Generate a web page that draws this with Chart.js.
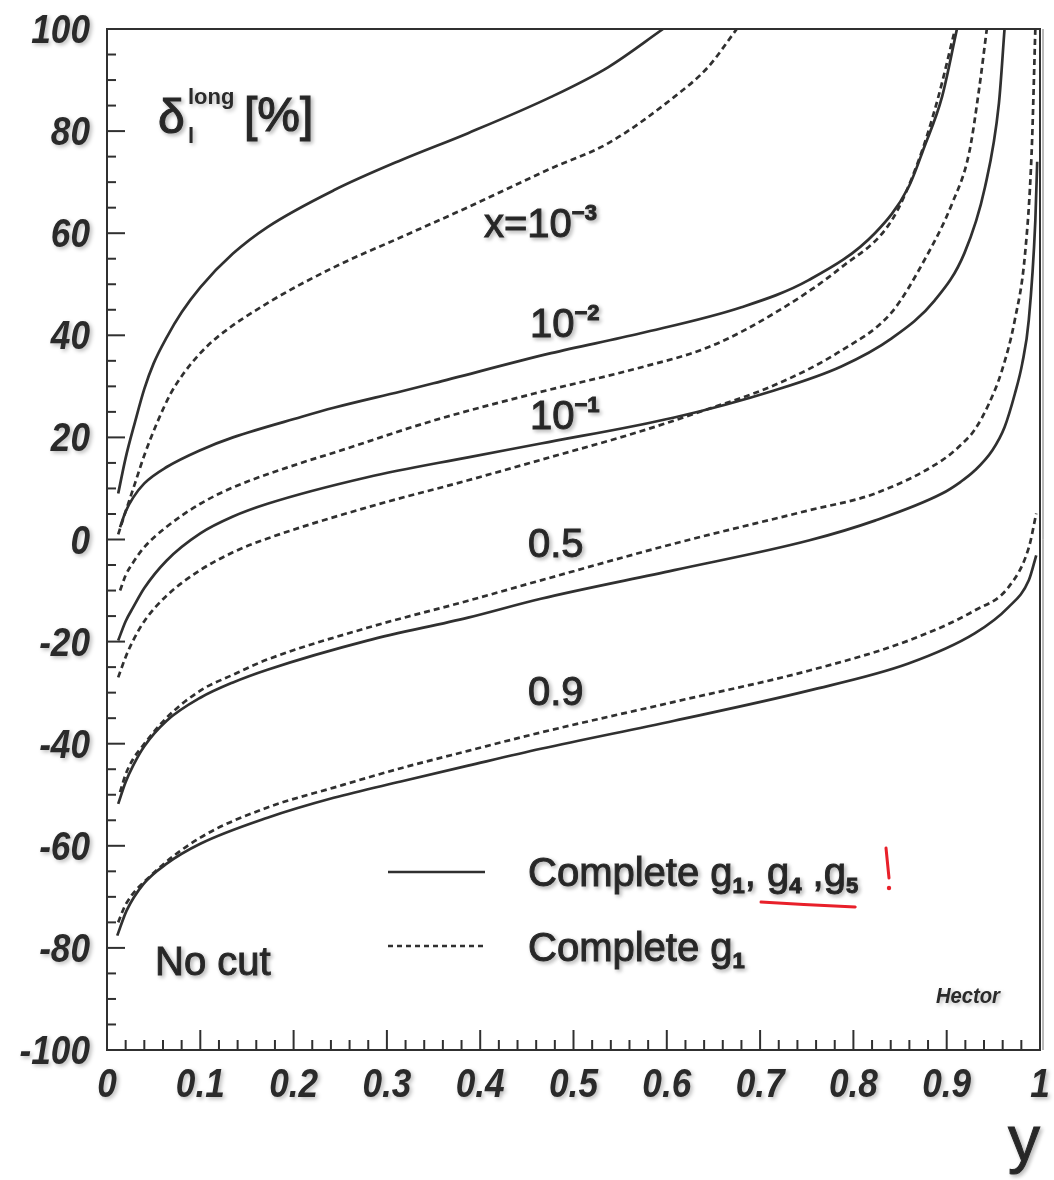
<!DOCTYPE html>
<html>
<head>
<meta charset="utf-8">
<script src="https://cdn.jsdelivr.net/npm/chart.js@4.4.1/dist/chart.umd.min.js"></script>
<style>
  html, body { margin: 0; padding: 0; background: #ffffff; }
  #wrap { width: 1054px; height: 1180px; }
</style>
</head>
<body>
<div id="wrap"><canvas id="c" width="1054" height="1180"></canvas></div>
<script>
// ---------- data ----------
// x axis variable "y", vertical axis delta_l^long [%]
const yS_1e3 = [0.012, 0.02, 0.03, 0.04, 0.05, 0.064, 0.08, 0.1, 0.135, 0.172, 0.243, 0.315, 0.387, 0.476, 0.537, 0.596];
const dS_1e3 = [9, 16, 23, 29.5, 34.5, 39.6, 44.5, 49.4, 56, 61.2, 68.4, 74.3, 79.6, 86.7, 92.5, 100];

const yD_1e3 = [0.012, 0.02, 0.03, 0.04, 0.054, 0.068, 0.082, 0.1, 0.118, 0.172, 0.243, 0.315, 0.387, 0.476, 0.537, 0.608, 0.644, 0.675];
const dD_1e3 = [1, 5.5, 11, 16.5, 23, 28.5, 32.5, 36.5, 39.6, 46.3, 53.3, 59.2, 65.1, 72.7, 77.6, 86.7, 92.5, 100];

const yS_1e2 = [0.014, 0.02, 0.028, 0.04, 0.064, 0.1, 0.135, 0.208, 0.243, 0.315, 0.35, 0.476, 0.572, 0.68, 0.752, 0.823, 0.859, 0.876, 0.895, 0.911];
const dS_1e2 = [2.4, 5.5, 8.2, 11, 14.2, 17.5, 20, 24, 25.8, 29, 30.6, 36.5, 40.4, 45.5, 50.8, 60, 69, 76.9, 86.7, 100];

const yD_1e2 = [0.014, 0.02, 0.028, 0.04, 0.064, 0.1, 0.135, 0.208, 0.243, 0.35, 0.458, 0.572, 0.645, 0.715, 0.787, 0.841, 0.87, 0.89, 0.909];
const dD_1e2 = [-10, -7, -4.5, -1.5, 2.5, 7, 10.2, 15, 17, 23.3, 28.6, 33.7, 37.7, 44.3, 53.3, 62.5, 74.3, 86, 100];

const yS_1e1 = [0.012, 0.02, 0.028, 0.04, 0.064, 0.1, 0.135, 0.172, 0.279, 0.387, 0.465, 0.608, 0.715, 0.787, 0.841, 0.887, 0.919, 0.941, 0.956, 0.962];
const dS_1e1 = [-19.8, -16, -13.3, -9.5, -4.1, 1.2, 4.5, 7, 12.2, 16.1, 18.8, 23.9, 29.2, 33.9, 39.4, 46.8, 56.1, 69, 85.5, 100];

const yD_1e1 = [0.012, 0.02, 0.028, 0.04, 0.064, 0.1, 0.135, 0.172, 0.279, 0.387, 0.465, 0.572, 0.645, 0.715, 0.787, 0.841, 0.876, 0.906, 0.924, 0.935, 0.943];
const dD_1e1 = [-27, -23, -19.8, -16, -11, -6, -2.5, 0.2, 6.3, 11.6, 15.6, 21.2, 25.6, 30.2, 37, 44.5, 54.7, 65.9, 75.7, 88.6, 100];

const yS_05 = [0.012, 0.02, 0.028, 0.04, 0.064, 0.1, 0.135, 0.172, 0.279, 0.387, 0.465, 0.608, 0.752, 0.823, 0.895, 0.915, 0.93, 0.949, 0.962, 0.973, 0.981, 0.988, 0.995, 0.997];
const dS_05 = [-51.8, -47.5, -44.3, -40.5, -35.5, -31, -28, -25.5, -19.8, -15.3, -11.6, -6, -0.2, 3.7, 9, 11.3, 13.5, 17.5, 22, 28.5, 34.5, 43, 62.5, 74];

const yD_05 = [0.014, 0.02, 0.028, 0.035, 0.064, 0.1, 0.135, 0.172, 0.279, 0.387, 0.465, 0.608, 0.752, 0.823, 0.895, 0.915, 0.93, 0.945, 0.959, 0.973, 0.984, 0.991, 0.995];
const dD_05 = [-49.5, -46, -43, -41.2, -34.9, -29.6, -26.5, -23.5, -17.3, -12, -8, -0.8, 5.7, 9, 15.5, 18.5, 21.5, 26.5, 33, 43, 56, 75.7, 100];

const yS_09 = [0.011, 0.021, 0.039, 0.064, 0.1, 0.172, 0.243, 0.315, 0.387, 0.465, 0.608, 0.752, 0.859, 0.93, 0.966, 0.988, 0.996];
const dS_09 = [-77.6, -72.7, -67.5, -63.5, -59.6, -54.5, -50.6, -47.4, -44.3, -41, -35.5, -29.6, -24.3, -18.4, -13.3, -8, -3.1];

const yD_09 = [0.012, 0.02, 0.046, 0.1, 0.172, 0.243, 0.315, 0.387, 0.465, 0.608, 0.752, 0.859, 0.93, 0.966, 0.988, 0.996];
const dD_09 = [-75, -71.5, -66, -58.4, -52.5, -48.6, -44.8, -41.4, -37.8, -31.8, -25.7, -19.8, -13.9, -9.4, -1.6, 5.1];

// ticks
const yTickValues = [100, 80, 60, 40, 20, 0, -20, -40, -60, -80, -100];
const yTickLabels = ['100', '80', '60', '40', '20', '0', '-20', '-40', '-60', '-80', '-100'];
const xTickValues = [0, 0.1, 0.2, 0.3, 0.4, 0.5, 0.6, 0.7, 0.8, 0.9, 1];
const xTickLabels = ['0', '0.1', '0.2', '0.3', '0.4', '0.5', '0.6', '0.7', '0.8', '0.9', '1'];

// ---------- chart ----------
const INK = '#303030';
function pts(xs, vs) { return xs.map((x, i) => ({ x: x, y: vs[i] })); }
function solid(label, xs, vs) {
  return { label, data: pts(xs, vs), borderColor: INK, borderWidth: 2.7, pointRadius: 0,
           cubicInterpolationMode: 'monotone', fill: false };
}
function dashed(label, xs, vs) {
  return { label, data: pts(xs, vs), borderColor: INK, borderWidth: 2.7, pointRadius: 0,
           borderDash: [6, 4], cubicInterpolationMode: 'monotone', fill: false };
}

function txt(ctx, s, x, y, font, align, sx, thick) {
  ctx.save();
  ctx.font = font;
  ctx.translate(x, y);
  ctx.scale(sx || 1, 1);
  ctx.textAlign = align || 'left';
  ctx.textBaseline = 'alphabetic';
  ctx.fillText(s, 0, 0);
  if (thick) { ctx.lineWidth = thick; ctx.strokeStyle = ctx.fillStyle; ctx.strokeText(s, 0, 0); }
  ctx.restore();
}
// rich text: parts = [{t, f, dy}], returns start x of each part and the end x
function rich(ctx, parts, x, y, thick) {
  const xs = [];
  let cx = x;
  ctx.save();
  if (thick) { ctx.lineWidth = thick; ctx.strokeStyle = ctx.fillStyle; }
  for (const p of parts) {
    ctx.font = p.f;
    ctx.textAlign = 'left';
    xs.push(cx);
    ctx.fillText(p.t, cx, y + (p.dy || 0));
    if (thick) ctx.strokeText(p.t, cx, y + (p.dy || 0));
    cx += ctx.measureText(p.t).width;
  }
  ctx.restore();
  xs.push(cx);
  return xs;
}

const decor = {
  id: 'decor',
  afterDraw(chart) {
    const { ctx, chartArea: ca, scales } = chart;
    const X = scales.x, Y = scales.y;
    ctx.save();
    // frame
    ctx.strokeStyle = INK;
    ctx.lineWidth = 2;
    ctx.setLineDash([]);
    ctx.strokeRect(ca.left, ca.top, ca.right - ca.left, ca.bottom - ca.top);
    ctx.lineWidth = 1;
    ctx.strokeStyle = '#777';
    ctx.beginPath(); ctx.moveTo(ca.right + 3, ca.top); ctx.lineTo(ca.right + 3, ca.bottom); ctx.stroke();

    // y ticks (inward)
    ctx.strokeStyle = INK;
    ctx.lineWidth = 2;
    for (let v = -100; v <= 100; v += 5) {
      const py = Y.getPixelForValue(v);
      const len = (v % 20 === 0) ? 18 : 9;
      ctx.beginPath(); ctx.moveTo(ca.left, py); ctx.lineTo(ca.left + len, py); ctx.stroke();
    }
    // x ticks (inward)
    for (let i = 0; i <= 50; i++) {
      const px = X.getPixelForValue(i / 50);
      const len = (i % 5 === 0) ? 20 : 10;
      ctx.beginPath(); ctx.moveTo(px, ca.bottom); ctx.lineTo(px, ca.bottom - len); ctx.stroke();
    }

    // text style with soft scan-like shadow
    ctx.fillStyle = '#2a2a2a';
    ctx.shadowColor = 'rgba(0,0,0,0.28)';
    ctx.shadowBlur = 4;
    ctx.shadowOffsetX = 2;
    ctx.shadowOffsetY = 2;

    const tickFont = 'italic bold 40px "Liberation Sans", Arial, sans-serif';
    yTickValues.forEach((v, i) => {
      txt(ctx, yTickLabels[i], 90, Y.getPixelForValue(v) + 14, tickFont, 'right', 0.88);
    });
    xTickValues.forEach((v, i) => {
      txt(ctx, xTickLabels[i], X.getPixelForValue(v), 1097, tickFont, 'center', 0.88);
    });

    // axis title "y"
    txt(ctx, 'y', 1040, 1161, '64px "Liberation Sans", Arial, sans-serif', 'right', 1, 1);

    // vertical axis title  delta_l^long [%]
    const tf = '48px "Liberation Sans", Arial, sans-serif';
    rich(ctx, [{ t: '\u03B4', f: tf }], 158, 133, 1.2);
    rich(ctx, [{ t: 'l', f: 'bold 22px "Liberation Sans", Arial, sans-serif' }], 188, 143);
    rich(ctx, [{ t: 'long', f: 'bold 22px "Liberation Sans", Arial, sans-serif' }], 188, 104);
    rich(ctx, [{ t: '[%]', f: tf }], 244, 131, 1.2);

    // curve labels
    const lf = '40px "Liberation Sans", Arial, sans-serif';
    const sf = 'bold 22px "Liberation Sans", Arial, sans-serif';
    rich(ctx, [{ t: 'x=10', f: lf }, { t: '\u22123', f: sf, dy: -17 }], 484, 237, 1);
    rich(ctx, [{ t: '10', f: lf }, { t: '\u22122', f: sf, dy: -17 }], 530, 337, 1);
    rich(ctx, [{ t: '10', f: lf }, { t: '\u22121', f: sf, dy: -17 }], 530, 429, 1);
    txt(ctx, '0.5', 528, 557, lf, 'left', 1, 1);
    txt(ctx, '0.9', 528, 705, lf, 'left', 1, 1);

    // legend
    const subf = 'bold 22px "Liberation Sans", Arial, sans-serif';
    const xs1 = rich(ctx, [
      { t: 'Complete g', f: lf }, { t: '1', f: subf, dy: 7 }, { t: ', ', f: lf },
      { t: 'g', f: lf }, { t: '4', f: subf, dy: 7 }, { t: ' ,', f: lf },
      { t: 'g', f: lf }, { t: '5', f: subf, dy: 7 }
    ], 528, 886, 1);
    rich(ctx, [{ t: 'Complete g', f: lf }, { t: '1', f: subf, dy: 7 }], 528, 961, 1);
    txt(ctx, 'No cut', 155, 975, lf, 'left', 1, 1);
    txt(ctx, 'Hector', 1000, 1003, 'italic bold 22px "Liberation Sans", Arial, sans-serif', 'right', 0.92);

    ctx.shadowColor = 'rgba(0,0,0,0)';
    ctx.shadowBlur = 0; ctx.shadowOffsetX = 0; ctx.shadowOffsetY = 0;
    // legend line samples
    ctx.strokeStyle = INK;
    ctx.lineWidth = 2.7;
    ctx.beginPath(); ctx.moveTo(388, 872); ctx.lineTo(485, 872); ctx.stroke();
    ctx.setLineDash([5, 4]);
    ctx.beginPath(); ctx.moveTo(388, 946); ctx.lineTo(485, 946); ctx.stroke();
    ctx.setLineDash([]);

    // red hand-written marks
    ctx.strokeStyle = '#e8202a';
    ctx.fillStyle = '#e8202a';
    ctx.lineWidth = 3;
    ctx.lineCap = 'round';
    const u0 = xs1[3] - 6, u1 = xs1[8] - 3;
    ctx.beginPath();
    ctx.moveTo(u0, 902);
    ctx.quadraticCurveTo((u0 + u1) / 2, 905, u1, 907);
    ctx.stroke();
    ctx.beginPath(); ctx.moveTo(886, 848); ctx.lineTo(889, 878); ctx.stroke();
    ctx.beginPath(); ctx.arc(889, 888, 2.2, 0, Math.PI * 2); ctx.fill();
    ctx.restore();
  }
};

new Chart(document.getElementById('c'), {
  type: 'line',
  data: {
    datasets: [
      solid('x=1e-3 complete g1,g4,g5', yS_1e3, dS_1e3),
      dashed('x=1e-3 complete g1', yD_1e3, dD_1e3),
      solid('x=1e-2 complete g1,g4,g5', yS_1e2, dS_1e2),
      dashed('x=1e-2 complete g1', yD_1e2, dD_1e2),
      solid('x=1e-1 complete g1,g4,g5', yS_1e1, dS_1e1),
      dashed('x=1e-1 complete g1', yD_1e1, dD_1e1),
      solid('x=0.5 complete g1,g4,g5', yS_05, dS_05),
      dashed('x=0.5 complete g1', yD_05, dD_05),
      solid('x=0.9 complete g1,g4,g5', yS_09, dS_09),
      dashed('x=0.9 complete g1', yD_09, dD_09)
    ]
  },
  options: {
    responsive: false,
    animation: false,
    devicePixelRatio: 1,
    layout: { padding: { left: 107, right: 14, top: 29, bottom: 130 } },
    plugins: { legend: { display: false }, tooltip: { enabled: false } },
    scales: {
      x: { type: 'linear', min: 0, max: 1, display: false },
      y: { type: 'linear', min: -100, max: 100, display: false }
    }
  },
  plugins: [decor]
});
</script>
</body>
</html>
